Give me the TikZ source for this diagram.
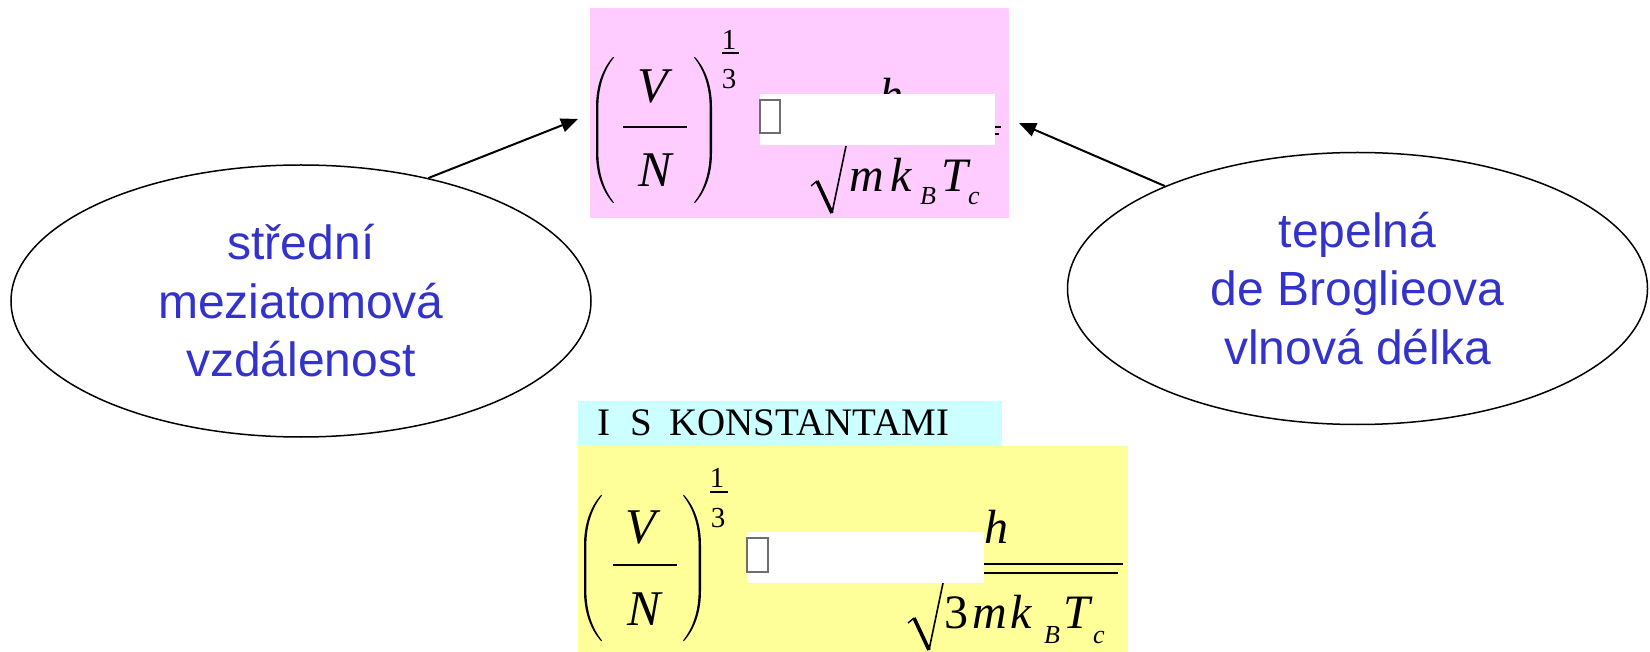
\documentclass[tikz,border=0pt]{standalone}
\usepackage{fontspec}
\setmainfont{Liberation Serif}
\newfontfamily\arialf{Liberation Sans}
\usetikzlibrary{shapes.geometric,arrows.meta}
\definecolor{pinkbg}{RGB}{255,204,255}
\definecolor{cyanbg}{RGB}{204,255,255}
\definecolor{yellowbg}{RGB}{255,255,153}
\definecolor{labelblue}{RGB}{51,51,204}
\definecolor{sqgray}{RGB}{110,110,110}
\tikzset{
 fillbg/.style={fill=#1, draw=none},
 mbig/.style={inner sep=0pt, anchor=base, font=\fontsize{25pt}{25pt}\selectfont\itshape},
 mit/.style={inner sep=0pt, anchor=base, font=\fontsize{24pt}{24pt}\selectfont\itshape},
 mup/.style={inner sep=0pt, anchor=base, font=\fontsize{24pt}{24pt}\selectfont},
 msub/.style={inner sep=0pt, anchor=base, font=\fontsize{13pt}{13pt}\selectfont\itshape},
 mexp/.style={inner sep=0pt, anchor=base, font=\fontsize{14.5pt}{14.5pt}\selectfont},
 fracbar/.style={line width=1pt},
 thinbar/.style={line width=0.7pt},
 dblbar/.style={line width=1.4pt},
 whitemask/.style={fill=white, draw=none},
 emptysq/.style={fill=white, draw=sqgray, line width=0.8pt},
 bubble/.style={ellipse, draw=black, line width=0.75pt, minimum width=290pt, minimum height=136pt, inner sep=0pt, align=center, text=labelblue, font=\arialf\fontsize{24pt}{29.25pt}\selectfont},
 arr/.style={line width=1pt, -{Triangle[length=8.5pt,width=7pt]}},
 capslabel/.style={inner sep=0pt, anchor=base west, font=\fontsize{19.5pt}{19.5pt}\selectfont},
 lpar/.pic={\fill (18,0) .. controls (7,12) and (1,30) .. (1,50) -- (1,96) .. controls (1,116) and (7,134) .. (18,146) -- (19,145.5) .. controls (9,133) and (3.4,116) .. (3.4,96) -- (3.4,50) .. controls (3.4,30) and (9,13) .. (19,0.5) -- cycle;},
 radical/.pic={\draw[line width=0.7pt] (-21,-27) -- (-15,-32);
   \draw[line width=1.8pt] (-15,-32) -- (0,0);
   \draw[line width=0.8pt] (0,0) -- (14,-67);},
}
\begin{document}
\begin{tikzpicture}[x=0.5pt,y=-0.5pt]
\useasboundingbox (0,0) rectangle (1650,652);
\fill[white] (0,0) rectangle (1650,652);
% backgrounds
\fill[fillbg=pinkbg] (590,8) rectangle (1009,218);
\fill[fillbg=cyanbg] (578,401) rectangle (1002,446);
\fill[fillbg=yellowbg] (578,446) rectangle (1128,652);
% top formula
\pic at (595,57) {lpar};
\pic[xscale=-1] at (713,57) {lpar};
\node[mbig] (tV) at (653,103) {V};
\node[mbig] (tN) at (655,187) {N};
\draw[fracbar] (623,127) -- (687,127);
\node[mexp] (te1) at (729,50) {1};
\draw[thinbar] (722,53) -- (739,53);
\node[mexp] (te3) at (729,89) {3};
\node[mit] (th) at (891,112) {h};
\draw[dblbar] (900,127) -- (1001,127);
\draw[dblbar] (900,134) -- (999,134);
\pic at (832,213) {radical};
\node[mit] (tm) at (867,192) {m};
\node[mit] (tk) at (901,192) {k};
\node[msub] (tB) at (928,205) {B};
\node[mit] (tT) at (955,192) {T};
\node[msub] (tc) at (974,205) {c};
\fill[whitemask] (760,94) rectangle (995,145);
\draw[emptysq] (760,100) rectangle (780,133);
% bottom label
\node[capslabel] (lI) at (597,436) {I};
\node[capslabel] (lS) at (630,436) {S};
\node[capslabel] (lK) at (669,436) {KONSTANTAMI};
% bottom formula
\pic at (583,495) {lpar};
\pic[xscale=-1] at (702,495) {lpar};
\node[mbig] (bV) at (641,543) {V};
\node[mbig] (bN) at (644,625) {N};
\draw[fracbar] (613,565) -- (677,565);
\node[mexp] (be1) at (717,487) {1};
\draw[thinbar] (710,492) -- (728,492);
\node[mexp] (be3) at (718,527) {3};
\node[mit] (bh) at (996,543) {h};
\draw[dblbar] (940,564) -- (1123,564);
\draw[dblbar] (940,573) -- (1118,573);
\pic at (929,650) {radical};
\node[mup] (b3) at (956,628) {3};
\node[mit] (bm) at (990,628) {m};
\node[mit] (bk) at (1021,628) {k};
\node[msub] (bB) at (1052,643) {B};
\node[mit] (bT) at (1077,628) {T};
\node[msub] (bc) at (1099,643) {c};
\fill[whitemask] (747,532) rectangle (984,583);
\draw[emptysq] (747,538) rectangle (768,572);
% ellipses
\node[bubble] (le) at (301,301) {střední\\meziatomová\\vzdálenost};
\node[bubble] (re) at (1357.5,288.5) {tepelná\\de Broglieova\\vlnová délka};
\coordinate (lt) at (578,119);
\coordinate (rt) at (1019,123);
\draw[arr] (le.44) -- (lt);
\draw[arr] (re.152) -- (rt);
\end{tikzpicture}
\end{document}
